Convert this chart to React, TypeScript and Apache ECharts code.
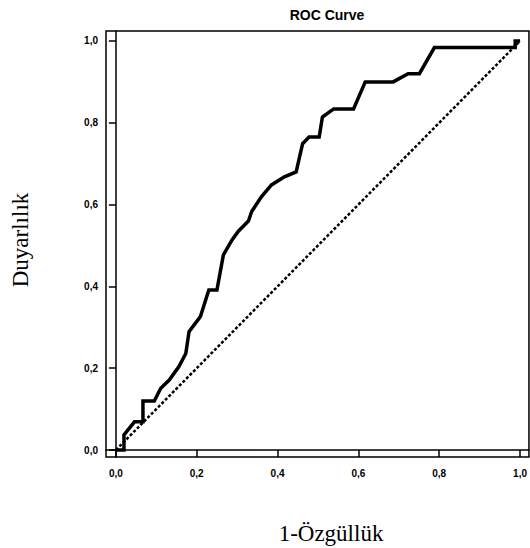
import React, { useEffect, useRef } from "react";
import * as echarts from "echarts";

const titleText = "ROC Curve";
const xAxisTitle = "1-Özgüllük";
const yAxisTitle = "Duyarlılık";
const tickValues = [0, 0.2, 0.4, 0.6, 0.8, 1.0];

// ROC curve (1 - specificity, sensitivity)
const fpr = [0, 0.02, 0.02, 0.046, 0.067, 0.067, 0.095, 0.111, 0.132, 0.156, 0.173, 0.181, 0.209, 0.23, 0.25, 0.266, 0.287, 0.303, 0.328, 0.336, 0.36, 0.385, 0.417, 0.446, 0.462, 0.478, 0.503, 0.511, 0.539, 0.588, 0.617, 0.686, 0.723, 0.751, 0.788, 0.988, 0.988, 1.0];
const tpr = [0, 0, 0.037, 0.069, 0.069, 0.12, 0.12, 0.151, 0.171, 0.204, 0.236, 0.289, 0.326, 0.391, 0.391, 0.477, 0.513, 0.535, 0.56, 0.583, 0.619, 0.648, 0.668, 0.68, 0.749, 0.765, 0.765, 0.814, 0.834, 0.834, 0.9, 0.9, 0.92, 0.92, 0.984, 0.984, 1.0, 1.0];

// reference diagonal
const refX = [0, 1];
const refY = [0, 1];

export default function App() {
  const ref = useRef<HTMLDivElement>(null);
  useEffect(() => {
    const chart = echarts.init(ref.current!, null, { renderer: "svg" });
    const fmt = (v: number) => v.toFixed(1).replace(".", ",");
    const labelStyle = {
      fontFamily: "Liberation Sans",
      fontWeight: "bold" as const,
      fontSize: 10,
      color: "#000",
    };
    chart.setOption({
      animation: false,
      backgroundColor: "#fff",
      grid: {
        left: 106,
        top: 31,
        width: 428,
        height: 426,
        show: true,
        borderColor: "#000",
        borderWidth: 1.5,
        containLabel: false,
      },
      xAxis: {
        type: "value",
        min: -0.02445,
        max: 1.022,
        axisLine: { show: true, lineStyle: { color: "#000", width: 1.5 } },
        axisTick: {
          show: true,
          length: 7,
          inside: false,
          customValues: tickValues,
          lineStyle: { color: "#000", width: 1.5 },
        },
        axisLabel: {
          ...labelStyle,
          margin: 11,
          customValues: tickValues,
          formatter: (v: number) => fmt(v),
        },
        splitLine: { show: false },
      },
      yAxis: {
        type: "value",
        min: -0.0171,
        max: 1.0244,
        axisLine: { show: true, lineStyle: { color: "#000", width: 1.5 } },
        axisTick: {
          show: true,
          length: 7,
          inside: false,
          customValues: tickValues,
          lineStyle: { color: "#000", width: 1.5 },
        },
        axisLabel: {
          ...labelStyle,
          margin: 8,
          customValues: tickValues,
          formatter: (v: number) => fmt(v),
        },
        splitLine: { show: false },
      },
      graphic: [
        {
          type: "text",
          x: 327,
          y: 15,
          style: {
            text: titleText,
            fontFamily: "Liberation Sans",
            fontWeight: "bold",
            fontSize: 14,
            fill: "#000",
            align: "center",
            verticalAlign: "middle",
          },
        },
        {
          type: "text",
          x: 331,
          y: 533,
          style: {
            text: xAxisTitle,
            fontFamily: "Liberation Serif",
            fontSize: 23,
            fill: "#000",
            align: "center",
            verticalAlign: "middle",
          },
        },
        {
          type: "text",
          x: 20,
          y: 240,
          rotation: Math.PI / 2,
          style: {
            text: yAxisTitle,
            fontFamily: "Liberation Serif",
            fontSize: 23,
            fill: "#000",
            align: "center",
            verticalAlign: "middle",
          },
        },
      ],
      series: [
        {
          type: "line",
          data: refX.map((x, i) => [x, refY[i]]),
          showSymbol: false,
          silent: true,
          lineStyle: { color: "#000", width: 2.5, type: [3, 2] },
          z: 2,
        },
        {
          type: "line",
          data: fpr.map((x, i) => [x, tpr[i]]),
          showSymbol: false,
          silent: true,
          lineStyle: { color: "#000", width: 3.5, join: "miter" },
          z: 3,
        },
      ],
    });
    return () => chart.dispose();
  }, []);
  return (
    <div
      ref={ref}
      style={{ position: "absolute", left: 0, top: 0, width: 530, height: 548 }}
    />
  );
}
